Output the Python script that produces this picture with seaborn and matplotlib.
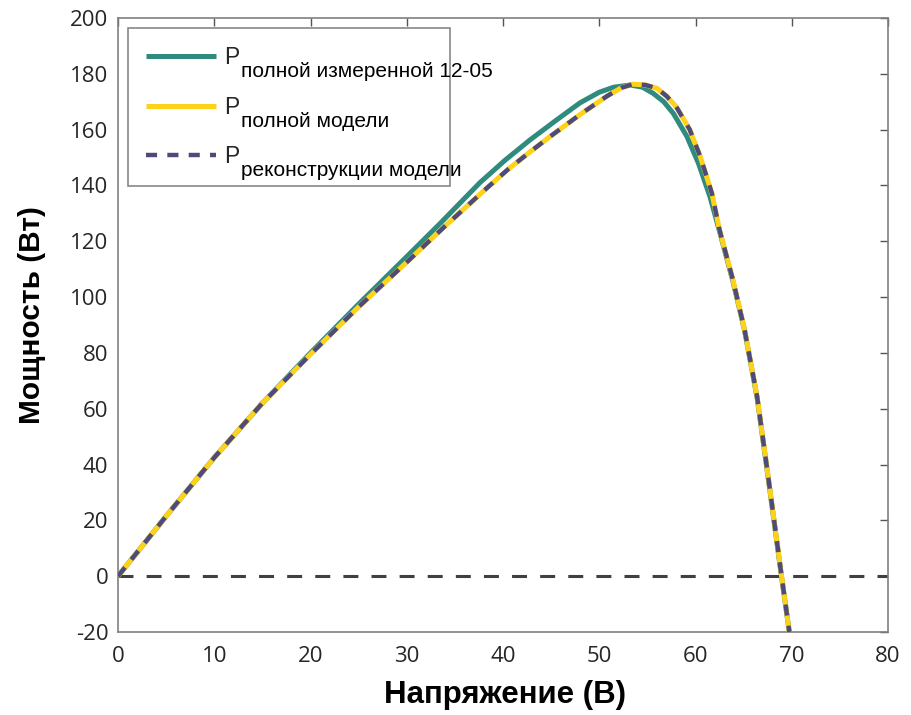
import numpy as np
import pandas as pd
import matplotlib
matplotlib.use("Agg")
import matplotlib.pyplot as plt
import seaborn as sns

# Data
v_meas = [0, 5, 10, 15, 20, 25, 30, 33.5, 37.6, 40.2, 42.8, 45.5, 48, 50, 51.5, 53.2, 54.5,
          55.6, 56.7, 57.7, 59.1, 60.3, 61.5, 62.5, 63.9, 65.1, 66.4, 67.6, 68.95, 69.75]
p_meas = [0, 21.5, 42.5, 62, 80, 97.5, 114.5, 126.5, 141, 149, 156.3, 163.3, 169.6, 173.4, 175.2, 176, 175.2,
          173, 170, 165.8, 157.6, 148, 136, 123.5, 105.5, 88, 64, 34, -0.5, -20]

v_model = [0, 5, 10, 15, 20, 25, 30, 34, 38.3, 40.5, 42.8, 45, 48, 50.8, 52.3, 53.5, 54.8,
           56, 57, 58, 59.4, 60.5, 61.7, 62.5, 63.9, 65.1, 66.4, 67.6, 68.95, 69.75]
p_model = [0, 21.5, 42.5, 62, 79.5, 96.5, 112.5, 125.5, 139, 145.7, 152, 157.8, 165.4, 172, 175, 176.3, 176,
           174.8, 172, 168.2, 160, 150.3, 137.2, 124, 106, 88.2, 64.3, 34.4, -0.2, -20]

v_recon = v_model
p_recon = p_model

x_ticks = [0, 10, 20, 30, 40, 50, 60, 70, 80]
y_ticks = [-20, 0, 20, 40, 60, 80, 100, 120, 140, 160, 180, 200]

legend_main = ["P", "P", "P"]
legend_sub = ["полной измеренной 12-05", "полной модели", "реконструкции модели"]

sns.set_style("white")
plt.rcParams['font.family'] = ['Liberation Sans', 'DejaVu Sans']

df_meas = pd.DataFrame({"V": v_meas, "P": p_meas})
df_model = pd.DataFrame({"V": v_model, "P": p_model})
df_recon = pd.DataFrame({"V": v_recon, "P": p_recon})

W, H = 912, 715
fig = plt.figure(figsize=(W / 100, H / 100), dpi=100)
ax = fig.add_axes([118 / W, 1 - 632 / H, 770 / W, 614 / H])

ax.axhline(0, color='#404040', lw=2.2, ls=(0, (4.9, 4.3)), zorder=1)

sns.lineplot(data=df_meas, x="V", y="P", ax=ax, color='#2E8B7D', lw=3.6,
             sort=False, estimator=None, label=legend_main[0], zorder=2)
sns.lineplot(data=df_model, x="V", y="P", ax=ax, color='#FFD21A', lw=3.6,
             sort=False, estimator=None, label=legend_main[1], zorder=3)
sns.lineplot(data=df_recon, x="V", y="P", ax=ax, color='#4F4A7C', lw=3.2,
             sort=False, estimator=None, label=legend_main[2], zorder=4)
ax.lines[-1].set_linestyle((0, (2.5, 2.3)))
for ln in ax.lines:
    ln.set_solid_capstyle('butt')
    ln.set_dash_capstyle('butt')
    ln.set_solid_joinstyle('round')

ax.set_xlim(0, 80)
ax.set_ylim(-20, 200)
ax.set_xticks(x_ticks)
ax.set_yticks(y_ticks)
ax.set_xticklabels([str(t) for t in x_ticks], fontfamily=['Open Sans', 'DejaVu Sans'])
ax.set_yticklabels([str(t) for t in y_ticks], fontfamily=['Open Sans', 'DejaVu Sans'])
ax.tick_params(axis='both', which='both', direction='in', length=6, width=1,
               color='#555555', labelsize=16, labelcolor='#262626',
               top=True, right=True)
ax.tick_params(axis='y', pad=7)
ax.tick_params(axis='x', pad=10)
for s in ax.spines.values():
    s.set_color('#808080')
    s.set_linewidth(1.2)

ax.set_xlabel("Напряжение (В)", fontsize=22.5, fontweight='bold', color='black')
ax.set_ylabel("Мощность (Вт)", fontsize=21.5, fontweight='bold', color='black')
ax.xaxis.set_label_coords(0.502, -0.078)
ax.yaxis.set_label_coords(-0.094, 0.516)

leg = ax.legend(loc='upper left', fontsize=16.5, handlelength=3.06, handletextpad=0.35,
                frameon=True, fancybox=False, borderpad=0.8, labelspacing=1.15,
                borderaxespad=0, mode='expand',
                bbox_to_anchor=(10 / 770, 0.3, 322 / 770, (632 - 28) / 614 - 0.3))
leg.get_frame().set_edgecolor('#888888')
leg.get_frame().set_linewidth(1.2)
leg.get_frame().set_alpha(1)

fig.canvas.draw()
renderer = fig.canvas.get_renderer()
for t, sub in zip(leg.get_texts(), legend_sub):
    bb = t.get_window_extent(renderer)
    fig.text((bb.x1 + 1) / W, (bb.y0 - 8.0) / H, sub, fontsize=15,
             va='baseline', ha='left', color='black', zorder=10)

fig.savefig("out.png", dpi=100)
